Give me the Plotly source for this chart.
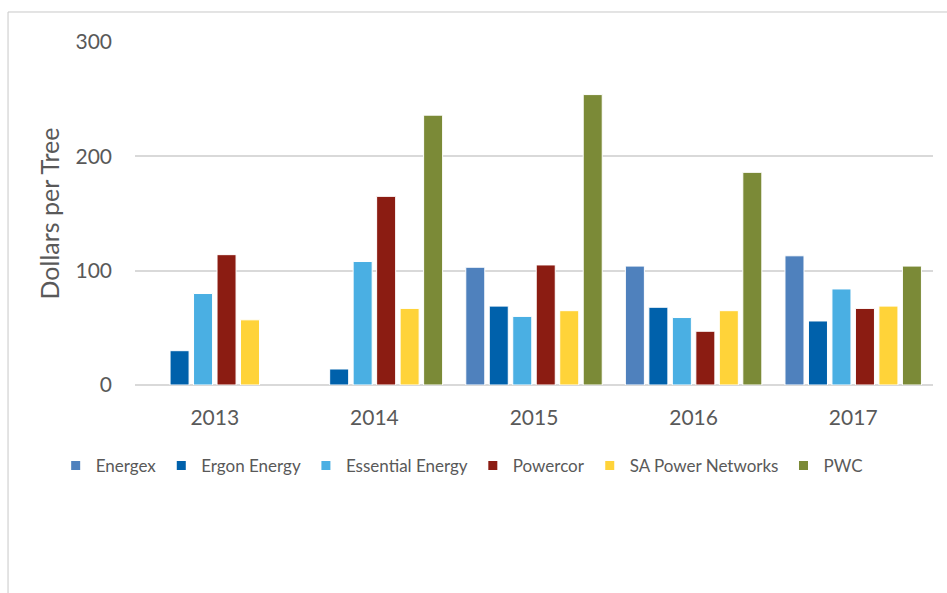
import plotly.graph_objects as go

years = ["2013", "2014", "2015", "2016", "2017"]
series_names = ["Energex", "Ergon Energy", "Essential Energy", "Powercor", "SA Power Networks", "PWC"]
energex = [None, None, 103, 104, 113]
ergon = [30, 14, 69, 68, 56]
essential = [80, 108, 60, 59, 84]
powercor = [114, 165, 105, 47, 67]
sa_power = [57, 67, 65, 65, 69]
pwc = [None, 236, 254, 186, 104]
colors = ["#4f81bd", "#0061ab", "#4aafe3", "#8b1c12", "#ffd339", "#7b8a37"]

values = [energex, ergon, essential, powercor, sa_power, pwc]

fig = go.Figure()
for name, vals, col in zip(series_names, values, colors):
    fig.add_trace(go.Bar(
        x=years, y=vals, name=name, marker_color=col,
        marker_line=dict(color="white", width=1), showlegend=False,
    ))
# legend entries with small square keys
for name, col in zip(series_names, colors):
    fig.add_trace(go.Scatter(
        x=[years[0]], y=[None], mode="markers", name=name,
        marker=dict(symbol="square", size=9, color=col), showlegend=True,
    ))

font_family = "Lato, 'Open Sans', sans-serif"
fig.update_layout(
    width=947, height=593,
    margin=dict(l=135, r=14, t=42, b=208),
    paper_bgcolor="white", plot_bgcolor="white",
    barmode="group", bargap=0.117, bargroupgap=0.19,
    font=dict(family=font_family, color="#595959"),
    legend=dict(
        orientation="h", x=-0.0994, xanchor="left", y=-0.236, yanchor="middle",
        font=dict(size=17, color="#595959"), itemwidth=30,
        traceorder="normal",
    ),
    xaxis=dict(
        type="category", showgrid=False, showline=False, zeroline=False,
        tickfont=dict(size=21, color="#595959"), ticks="", ticklabelstandoff=18,
    ),
    yaxis=dict(
        range=[0, 300], dtick=100, showgrid=True, gridcolor="#d9d9d9", gridwidth=1.5,
        zeroline=True, zerolinecolor="#d9d9d9", zerolinewidth=1.5, showline=False,
        tickfont=dict(size=21, color="#595959"), ticklabelstandoff=22,
        title=dict(text="Dollars per Tree", font=dict(size=25, color="#595959"), standoff=8),
    ),
    shapes=[
        dict(type="line", xref="paper", yref="paper", x0=-0.1591, x1=-0.1591, y0=1.0875, y1=-0.7,
             line=dict(color="#c8c8c8", width=1)),
        dict(type="line", xref="paper", yref="paper", x0=-0.1591, x1=1.1, y0=1.0875, y1=1.0875,
             line=dict(color="#c8c8c8", width=1)),
    ],
)

fig.write_html("out.html")
